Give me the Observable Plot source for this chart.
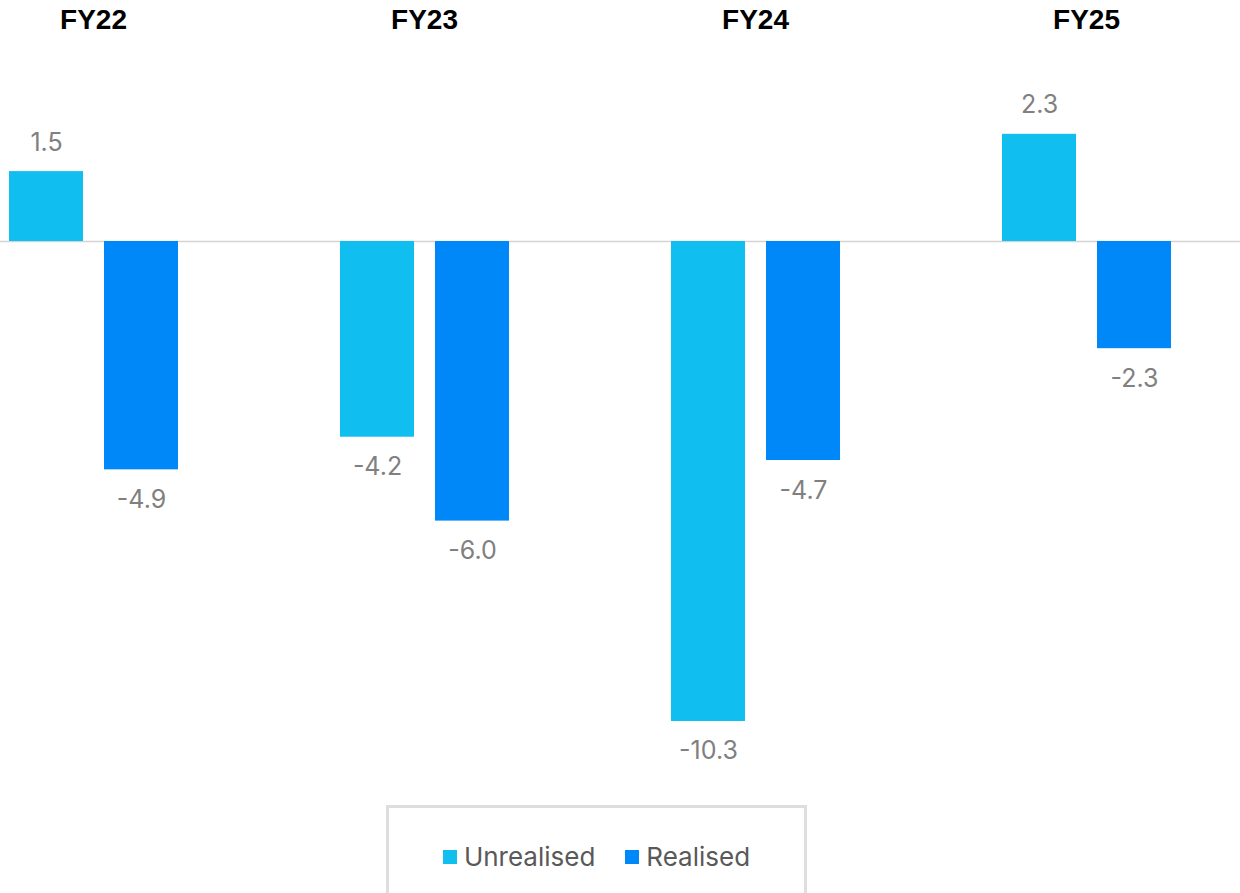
<!DOCTYPE html>
<html>
<head>
<meta charset="utf-8">
<script src="https://cdn.jsdelivr.net/npm/d3@7"></script>
<script src="https://cdn.jsdelivr.net/npm/@observablehq/plot@0.6"></script>
<style>
  html, body { margin: 0; padding: 0; background: #fff; overflow: hidden; }
  #chart svg { display: block; }
  #legend {
    position: absolute; left: 386px; top: 805px; width: 415px; height: 140px;
    border: 3px solid #dedede; box-sizing: content-box;
    font-family: Inter, sans-serif; font-size: 26px; color: #595959;
  }
  #legend .row { position: absolute; top: 33px; left: 0; right: 0; display: flex; justify-content: center; align-items: center; }
  #legend .item { display: flex; align-items: center; margin: 0 15px; }
  #legend .sw { width: 14px; height: 14px; margin-right: 7px; }
</style>
</head>
<body>
<div id="chart"></div>
<div id="legend"><div class="row"></div></div>
<script>
const years = ["FY22", "FY23", "FY24", "FY25"];
const series = ["Unrealised", "Realised"];
const unrealised = [1.5, -4.2, -10.3, 2.3];
const realised = [-4.9, -6.0, -4.7, -2.3];
const colors = ["#10BEF0", "#0088F8"];

const rows = [];
years.forEach((y, i) => {
  rows.push({year: y, series: "Unrealised", value: unrealised[i]});
  rows.push({year: y, series: "Realised", value: realised[i]});
});
const U = rows.filter(d => d.series === "Unrealised");
const R = rows.filter(d => d.series === "Realised");
const fmt = v => v.toFixed(1);
const labelFont = {fontFamily: "Inter, sans-serif", fontSize: 25, fill: "#808080"};

const chart = Plot.plot({
  width: 1240,
  height: 800,
  marginTop: 0, marginBottom: 0, marginLeft: 0, marginRight: 0,
  style: {background: "transparent"},
  x: {type: "band", domain: years, range: [-72.5, 1251.5], padding: 0, round: false, axis: null},
  y: {domain: [-12, 3], range: [800.2, 101.2], axis: null},
  marks: [
    Plot.ruleY([0], {stroke: "#d4d4d4", strokeWidth: 1.5}),
    Plot.barY(U, {x: "year", y: "value", fill: colors[0], insetLeft: 81.5, insetRight: 175.5}),
    Plot.barY(R, {x: "year", y: "value", fill: colors[1], insetLeft: 176.5, insetRight: 80.5}),
    Plot.text(U.filter(d => d.value >= 0), {x: "year", y: "value", text: d => fmt(d.value), dx: -47, dy: -29, ...labelFont}),
    Plot.text(U.filter(d => d.value < 0), {x: "year", y: "value", text: d => fmt(d.value), dx: -47, dy: 30, ...labelFont}),
    Plot.text(R.filter(d => d.value >= 0), {x: "year", y: "value", text: d => fmt(d.value), dx: 48, dy: -29, ...labelFont}),
    Plot.text(R.filter(d => d.value < 0), {x: "year", y: "value", text: d => fmt(d.value), dx: 48, dy: 30, ...labelFont}),
    Plot.text(years, {x: d => d, frameAnchor: "top", lineAnchor: "middle", dy: 20, text: d => d,
      fontFamily: "'Liberation Sans', Arial, sans-serif", fontWeight: "bold", fontSize: 28, fill: "#000"})
  ]
});
document.getElementById("chart").appendChild(chart);

const row = document.querySelector("#legend .row");
series.forEach((s, i) => {
  const item = document.createElement("div");
  item.className = "item";
  const sw = document.createElement("span");
  sw.className = "sw";
  sw.style.background = colors[i];
  const t = document.createElement("span");
  t.textContent = s;
  item.appendChild(sw); item.appendChild(t);
  row.appendChild(item);
});
</script>
</body>
</html>
